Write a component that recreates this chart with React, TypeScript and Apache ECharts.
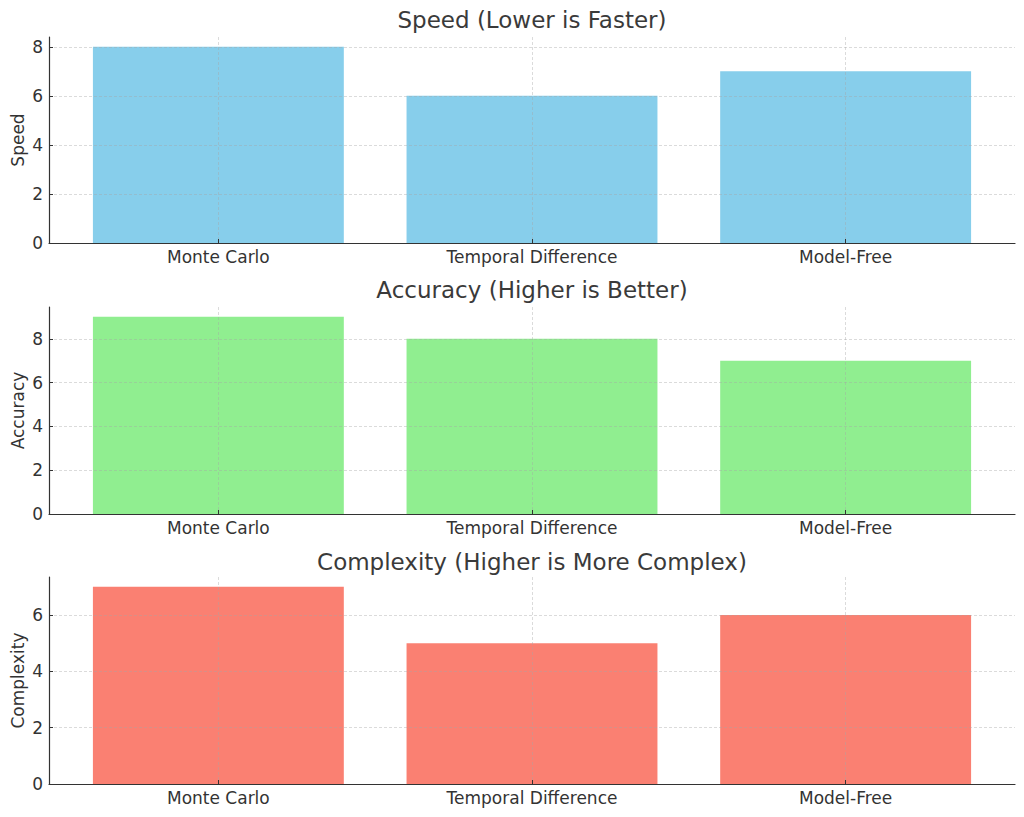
import React, { useEffect, useRef } from "react";
import * as echarts from "echarts";

const categories = ["Monte Carlo", "Temporal Difference", "Model-Free"];
const speed = [8, 6, 7];
const accuracy = [9, 8, 7];
const complexity = [7, 5, 6];
const yTicks = [0, 2, 4, 6, 8];
const xTicks = [0, 1, 2];

const titles = [
  "Speed (Lower is Faster)",
  "Accuracy (Higher is Better)",
  "Complexity (Higher is More Complex)",
];
const yNames = ["Speed", "Accuracy", "Complexity"];
const colors = ["#87CEEB", "#90EE90", "#FA8072"];
const seriesValues = [speed, accuracy, complexity];

const FONT = "DejaVu Sans";

export default function App() {
  const ref = useRef<HTMLDivElement>(null);
  useEffect(() => {
    document.body.style.margin = "0";
    const chart = echarts.init(ref.current!, null, { renderer: "svg" });
    const tops = [37, 307, 577];
    const left = 49;
    const right = 9;
    const grids = tops.map((t) => ({
      left,
      right,
      top: t,
      height: t === 37 ? 206 : 207,
      containLabel: false,
      outerBoundsMode: "none",
    }));
    const gridLine = {
      show: true,
      lineStyle: { color: "rgba(165,165,165,0.5)", type: [3, 2], width: 0.8 },
    };
    const xAxes = tops.map((_, i) => ({
      type: "value",
      gridIndex: i,
      min: -0.54,
      max: 2.54,
      z: 5,
      axisLine: { show: true, onZero: false, lineStyle: { color: "#333", width: 1.2 } },
      axisTick: {
        show: true,
        inside: true,
        length: 4,
        customValues: xTicks,
        lineStyle: { color: "#333" },
      },
      axisLabel: {
        customValues: xTicks,
        formatter: (v: number) => categories[Math.round(v)] ?? "",
        color: "#333",
        fontFamily: FONT,
        fontSize: 17,
        margin: 5,
      },
      splitLine: gridLine,
    }));
    const yAxes = tops.map((_, i) => {
      const vals = seriesValues[i];
      const mx = Math.max(...vals) * 1.05;
      return {
        type: "value",
        gridIndex: i,
        min: 0,
        max: mx,
        z: 5,
        name: yNames[i],
        nameLocation: "middle",
        nameGap: 23,
        nameMoveOverlap: false,
        nameTextStyle: { color: "#333", fontFamily: FONT, fontSize: 17 },
        axisLine: { show: true, onZero: false, lineStyle: { color: "#333", width: 1.2 } },
        axisTick: {
          show: true,
          inside: true,
          length: 4,
          customValues: yTicks.filter((t) => t <= mx),
          lineStyle: { color: "#333" },
        },
        axisLabel: {
          customValues: yTicks.filter((t) => t <= mx),
          color: "#333",
          fontFamily: FONT,
          fontSize: 17,
          margin: 6,
        },
        splitLine: gridLine,
      };
    });
    const series = seriesValues.map((vals, i) => ({
      type: "custom",
      xAxisIndex: i,
      yAxisIndex: i,
      z: 2,
      data: vals.map((v, j) => [xTicks[j], v]),
      renderItem: (params: any, api: any) => {
        const x = api.value(0);
        const v = api.value(1);
        const p1 = api.coord([x - 0.4, v]);
        const p2 = api.coord([x + 0.4, 0]);
        return {
          type: "rect",
          shape: { x: p1[0], y: p1[1], width: p2[0] - p1[0], height: p2[1] - p1[1] },
          style: { fill: colors[i] },
        };
      },
    }));
    const titleY = [20, 290, 562];
    chart.setOption({
      animation: false,
      backgroundColor: "#fff",
      grid: grids,
      xAxis: xAxes,
      yAxis: yAxes,
      series,
      graphic: titles.map((t, i) => ({
        type: "text",
        x: (left + 1024 - right) / 2,
        y: titleY[i],
        style: {
          text: t,
          textAlign: "center",
          textVerticalAlign: "middle",
          fill: "#3a3a3a",
          font: `23px "${FONT}"`,
        },
      })),
    });
    return () => chart.dispose();
  }, []);
  return <div ref={ref} style={{ width: 1024, height: 817 }} />;
}
